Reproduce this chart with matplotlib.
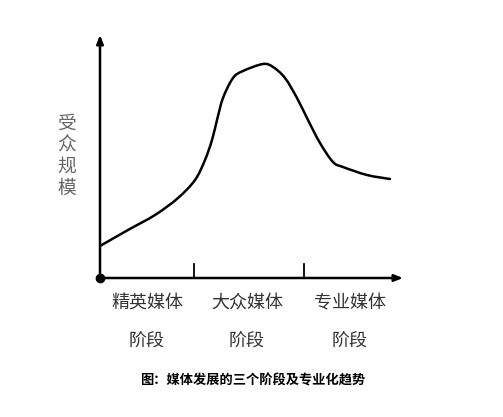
import matplotlib
matplotlib.use('Agg')
import matplotlib.pyplot as plt
from matplotlib.path import Path
from matplotlib.patches import PathPatch
import numpy as np

plt.rcParams['font.family'] = ['Noto Sans CJK SC', 'DejaVu Sans']

# audience size curve (arbitrary units)
curve_x = [0, 28, 55, 78, 95, 105, 112, 117, 123, 133, 143, 163, 173, 185, 197, 208, 220, 233, 243, 267, 290]
curve_y = [32, 48, 63, 80, 98, 118, 138, 158, 180, 200, 207, 214, 211, 200, 180, 158, 135, 116, 111, 103, 99]

stage_bounds = [94, 204]
stage_centers = [47, 147, 250]
stage_names = ['精英媒体', '大众媒体', '专业媒体']
stage_suffix = '阶段'
ylabel_text = '受众规模'
caption = '图：媒体发展的三个阶段及专业化趋势'

W, H = 503, 417
fig = plt.figure(figsize=(W / 100, H / 100), dpi=100, facecolor='white')
# axes: origin at pixel (100, 278), 1 data unit = 1 pixel
ax = fig.add_axes([100 / W, (H - 278) / H, 303 / W, 243 / H])
ax.set_xlim(0, 303)
ax.set_ylim(0, 243)
ax.axis('off')


def smooth_path(xs, ys):
    # catmull-rom through the points, drawn as cubic bezier segments
    pts = np.column_stack([xs, ys]).astype(float)
    verts = [pts[0]]
    codes = [Path.MOVETO]
    n = len(pts)
    for i in range(n - 1):
        p0 = pts[i - 1] if i > 0 else pts[i]
        p1 = pts[i]
        p2 = pts[i + 1]
        p3 = pts[i + 2] if i + 2 < n else pts[i + 1]
        c1 = p1 + (p2 - p0) / 6.0
        c2 = p2 - (p3 - p1) / 6.0
        verts += [c1, c2, p2]
        codes += [Path.CURVE4] * 3
    return Path(verts, codes)


ax.add_patch(PathPatch(smooth_path(curve_x, curve_y), fill=False, lw=1.8,
                       edgecolor='black', capstyle='round', joinstyle='round'))

# axes arrows
arrow = dict(arrowstyle='-|>,head_length=0.5,head_width=0.2', lw=1.8, color='black',
             shrinkA=0, shrinkB=0)
ax.annotate('', xy=(0, 1), xycoords='axes fraction', xytext=(0, 0),
            textcoords='axes fraction', arrowprops=arrow, annotation_clip=False)
ax.annotate('', xy=(1, 0), xycoords='axes fraction', xytext=(0, 0),
            textcoords='axes fraction', arrowprops=arrow, annotation_clip=False)
ax.plot([0], [0], 'o', color='black', ms=6, clip_on=False, zorder=5)

for b in stage_bounds:
    ax.plot([b, b], [0, 14], color='black', lw=1.3, clip_on=False)

for cx, name in zip(stage_centers, stage_names):
    ax.text(cx, -25, name, ha='center', va='center', fontsize=13, color='#333333', clip_on=False)
    ax.text(cx, -64, stage_suffix, ha='center', va='center', fontsize=13, color='#333333', clip_on=False)

for i, ch in enumerate(ylabel_text):
    ax.text(-33, 155 - i * 21.7, ch, ha='center', va='center', fontsize=13.5,
            color='#666666', clip_on=False)

ax.text(153, -102, caption, ha='center', va='center', fontsize=9.5,
        fontweight='bold', color='black', clip_on=False)

fig.savefig('out.png', dpi=100, facecolor='white')
